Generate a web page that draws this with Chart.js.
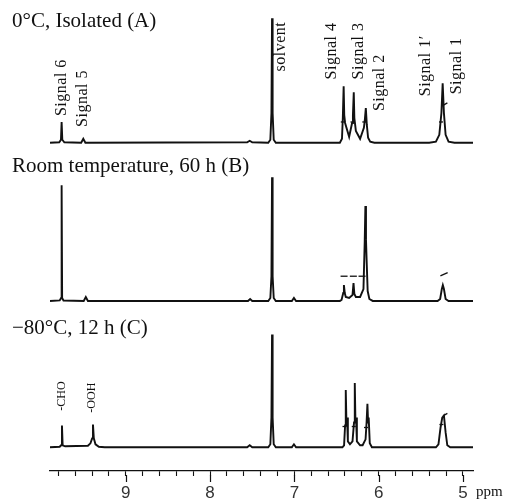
<!DOCTYPE html>
<html>
<head>
<meta charset="utf-8">
<script src="https://cdn.jsdelivr.net/npm/chart.js@4/dist/chart.umd.min.js"></script>
<style>
  html, body { margin: 0; padding: 0; background: #ffffff; }
  #wrap { width: 515px; height: 504px; position: relative; }
</style>
</head>
<body>
<div id="wrap"><canvas id="c" width="515" height="504"></canvas></div>
<script>
// ---------------- DATA ----------------
// Trace A: 0°C, Isolated
const ppmA = [9.90, 9.79, 9.77, 9.762, 9.754, 9.73, 9.53, 9.505, 9.48, 7.56, 7.53, 7.50,
  7.31, 7.285, 7.272, 7.265, 7.258, 7.245, 7.22,
  6.46, 6.435, 6.425, 6.415, 6.408, 6.398, 6.35, 6.315, 6.305, 6.295, 6.288, 6.27, 6.22,
  6.175, 6.165, 6.152, 6.14, 6.125, 6.10, 6.05,
  5.40, 5.32, 5.28, 5.255, 5.24, 5.225, 5.205, 5.17, 5.10, 4.88];
const intA = [0, 0.5, 3, 21, 3, 0.5, 0, 4, 0, 0.5, 2, 0.5,
  0, 3, 30, 126, 30, 3, 0,
  0, 4, 25, 57, 28, 20, 6, 20, 28, 51, 25, 12, 4,
  15, 22, 35, 18, 5, 1, 0,
  0, 1, 8, 30, 60, 30, 8, 1, 0, 0];

// Trace B: Room temperature, 60 h
const ppmB = [9.90, 9.785, 9.768, 9.762, 9.756, 9.74, 9.50, 9.475, 9.45, 7.55, 7.525, 7.50,
  7.31, 7.285, 7.272, 7.265, 7.258, 7.245, 7.22, 7.03, 7.005, 6.98,
  6.46, 6.44, 6.42, 6.412, 6.402, 6.39, 6.35, 6.31, 6.298, 6.288, 6.27, 6.22,
  6.18, 6.165, 6.157, 6.150, 6.142, 6.13, 6.11, 6.07,
  5.30, 5.27, 5.25, 5.238, 5.225, 5.205, 5.17, 4.88];
const intB = [0, 0.5, 3, 117, 3, 0.5, 0, 4, 0, 0, 2, 0,
  0, 3, 25, 125, 25, 3, 0, 0, 3, 0,
  0, 1, 8, 16, 8, 4, 3, 6, 18, 7, 4, 4,
  12, 60, 96, 62, 40, 10, 2, 0,
  0, 2, 12, 16, 12, 2, 0, 0];

// Trace C: -80°C, 12 h
const ppmC = [9.90, 9.785, 9.768, 9.758, 9.750, 9.72, 9.45, 9.42, 9.40, 9.39, 9.38, 9.36, 9.32, 9.25,
  7.56, 7.53, 7.50, 7.31, 7.285, 7.272, 7.265, 7.258, 7.245, 7.22, 7.03, 7.005, 6.98,
  6.43, 6.41, 6.398, 6.390, 6.382, 6.375, 6.365, 6.34, 6.31, 6.292, 6.283, 6.275, 6.268, 6.258, 6.22,
  6.19, 6.155, 6.143, 6.133, 6.125, 6.118, 6.105, 6.08,
  5.32, 5.29, 5.265, 5.245, 5.225, 5.205, 5.185, 5.15, 4.88];
const intC = [0, 0.5, 2, 22, 2, 1, 1.5, 4, 9, 23, 9, 3, 0.5, 0,
  0, 2, 0, 0, 3, 30, 114, 30, 3, 0, 0, 3, 0,
  0, 2, 22, 58, 25, 30, 6, 3, 6, 25, 65, 25, 30, 6, 2,
  2, 8, 25, 44, 25, 30, 4, 0,
  0, 3, 20, 30, 32, 15, 2, 0, 0];

// small integration hash marks (trace, ppm, height above the trace baseline, tilt in degrees)
const markTrace = ['A', 'A', 'A', 'A', 'A', 'B', 'B', 'B', 'B', 'C', 'C', 'C', 'C', 'C'];
const markPpm   = [6.425, 6.31, 6.17, 5.26, 5.21, 6.41, 6.30, 6.197, 5.224, 6.405, 6.295, 6.15, 5.255, 5.21];
const markInt   = [21, 21, 21, 21, 39, 25, 25, 25, 27, 21, 21, 20, 23, 33];
const markRot   = [0, 0, 0, 0, -30, 0, 0, 0, -25, 0, 0, 0, 0, -30];
const markLen   = [2, 2, 2, 2, 2.5, 3.5, 3.5, 3.5, 4, 2, 2, 2, 2, 2.5];

// panel titles
const titles = ['0°C, Isolated (A)', 'Room temperature, 60 h (B)', '−80°C, 12 h (C)'];

// vertical peak labels: text, ppm position, value where the text starts (bottom end)
const peakLabels = ['Signal 6', 'Signal 5', 'solvent', 'Signal 4', 'Signal 3', 'Signal 2', 'Signal 1′', 'Signal 1', '-CHO', '-OOH'];
const peakLabelPpm = [9.758, 9.51, 7.158, 6.553, 6.233, 5.984, 5.44, 5.07, 9.758, 9.40];
const peakLabelVal = [359, 348, 404, 396, 396, 364, 379, 381, 61, 59];

// x-axis
const xMin = 4.88, xMax = 9.9, xStep = 0.2;

// ---------------- CHART ----------------
const offsets = { A: 332, B: 172, C: 24 };
function pts(ppm, ints, off) { return ppm.map((p, i) => ({ x: p, y: ints[i] + off })); }

const lineStyle = { borderColor: '#111', borderWidth: 1.9, pointRadius: 0, tension: 0, fill: false, clip: false };

const marks = markPpm.map((p, i) => ({ x: p, y: markInt[i] + offsets[markTrace[i]] }));

const textPlugin = {
  id: 'texts',
  afterDraw(chart) {
    const ctx = chart.ctx;
    const xs = chart.scales.x, ys = chart.scales.y;
    ctx.save();
    ctx.fillStyle = '#111';
    // titles
    ctx.font = '21px "Liberation Serif"';
    ctx.textAlign = 'left';
    ctx.textBaseline = 'alphabetic';
    const titleY = [27, 172, 334];
    titles.forEach((t, i) => ctx.fillText(t, 12, titleY[i]));
    // rotated peak labels
    peakLabels.forEach((t, i) => {
      const px = xs.getPixelForValue(peakLabelPpm[i]);
      const py = ys.getPixelForValue(peakLabelVal[i]);
      ctx.save();
      ctx.translate(px, py);
      ctx.rotate(-Math.PI / 2);
      ctx.font = (t.startsWith('-') ? '12px' : '16px') + ' "Liberation Serif"';
      try { ctx.letterSpacing = t.startsWith('-') ? '0px' : '0.5px'; } catch (e) {}
      ctx.textAlign = 'left';
      ctx.textBaseline = 'middle';
      ctx.fillText(t, 0, 0);
      ctx.restore();
    });
    // longer major ticks
    const b = chart.chartArea.bottom;
    ctx.strokeStyle = '#111';
    ctx.lineWidth = 1.2;
    xs.ticks.forEach(tk => {
      if (Math.abs(tk.value - Math.round(tk.value)) < 1e-6) {
        const px = Math.round(xs.getPixelForValue(tk.value)) + 0.5;
        ctx.beginPath(); ctx.moveTo(px, b + 4); ctx.lineTo(px, b + 11); ctx.stroke();
      }
    });
    // unit
    ctx.font = '15px "Liberation Serif"';
    ctx.textAlign = 'left';
    ctx.textBaseline = 'alphabetic';
    ctx.fillText('ppm', 476, 496);
    ctx.restore();
  }
};

new Chart(document.getElementById('c'), {
  type: 'line',
  data: {
    datasets: [
      Object.assign({ label: 'A', data: pts(ppmA, intA, offsets.A) }, lineStyle),
      Object.assign({ label: 'B', data: pts(ppmB, intB, offsets.B) }, lineStyle),
      Object.assign({ label: 'C', data: pts(ppmC, intC, offsets.C) }, lineStyle),
      { type: 'scatter', label: 'marks', data: marks, pointStyle: 'line', pointRadius: markLen,
        rotation: markRot, borderColor: '#111', borderWidth: 1.3, backgroundColor: '#111', clip: false }
    ]
  },
  options: {
    responsive: false,
    animation: false,
    devicePixelRatio: 1,
    layout: { padding: { left: 50, right: 42, top: 0, bottom: 0 } },
    plugins: { legend: { display: false }, tooltip: { enabled: false }, title: { display: false } },
    scales: {
      x: {
        type: 'linear', reverse: true, min: xMin, max: xMax,
        afterFit: (s) => { s.height = 33; },
        border: { display: true, color: '#111', width: 1.3 },
        grid: { drawOnChartArea: false, drawTicks: true, tickLength: 5, tickColor: '#111', tickWidth: 1.1 },
        ticks: {
          stepSize: xStep, includeBounds: false, autoSkip: false, maxRotation: 0, padding: 7,
          color: '#333', font: { family: 'Liberation Sans', size: 17 },
          callback: (v) => Math.abs(v - Math.round(v)) < 1e-6 ? String(Math.round(v)) : ''
        }
      },
      y: { type: 'linear', display: false, min: 0, max: 471 }
    }
  },
  plugins: [textPlugin]
});
</script>
</body>
</html>
